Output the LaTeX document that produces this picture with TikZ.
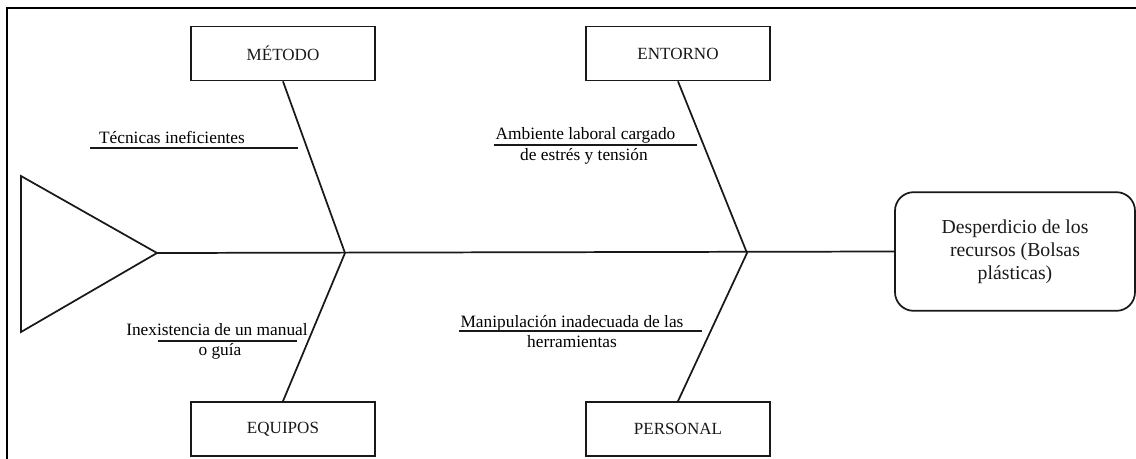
\documentclass[tikz,border=0pt]{standalone}
\usepackage{fontspec}
\setmainfont{Liberation Serif}
\begin{document}
\begin{tikzpicture}[x=0.75pt,y=-0.75pt,
  ln/.style={line width=1.3pt,black!90},
  catbox/.style={draw,line width=1.3pt,black!90,rectangle,minimum width=138pt,minimum height=40.5pt,inner sep=0pt,font=\fontsize{12.8}{15}\selectfont},
  effbox/.style={draw,line width=1.3pt,black!90,rectangle,rounded corners=14pt,minimum width=180pt,minimum height=89pt,inner sep=0pt,align=center,font=\fontsize{14.8}{17.4}\selectfont},
  lbl/.style={anchor=base,inner sep=0pt,font=\fontsize{13}{15}\selectfont}]
\useasboundingbox (0,0) rectangle (1136,458);
% frame
\draw[line width=1.9pt] (7,470) -- (7,8) -- (1150,8);
% head triangle
\coordinate (apex) at (157,253);
\draw[ln] (21,176) -- (apex) -- (21,332) -- cycle;
% effect
\node[effbox] (eff) at (1015,251.5) {Desperdicio de los\\recursos (Bolsas\\plásticas)};
% junctions
\coordinate (j1) at (345,253);
\coordinate (j2) at (747,253);
\draw[ln] (apex) -- (eff.west);
% categories
\node[catbox] (met) at (283,53.5) {MÉTODO};
\node[catbox] (ent) at (678,53.5) {ENTORNO};
\node[catbox] (equ) at (283,429) {EQUIPOS};
\node[catbox] (per) at (678,429) {PERSONAL};
\draw[ln] (met.south) -- (j1) -- (equ.north);
\draw[ln] (ent.south) -- (j2) -- (per.north);
% causes
\node[lbl] (c1) at (172,143) {Técnicas ineficientes};
\coordinate (u1a) at (90,148); \coordinate (u1b) at (298,148);
\draw[ln,line width=1pt] (u1a) -- (u1b);
\node[lbl] (c2a) at (585.5,139) {Ambiente laboral cargado};
\node[lbl] (c2b) at (584,160) {de estrés y tensión};
\coordinate (u2a) at (494,145); \coordinate (u2b) at (697,145);
\draw[ln,line width=1pt] (u2a) -- (u2b);
\node[lbl] (c3a) at (217,335) {Inexistencia de un manual};
\node[lbl] (c3b) at (220,355) {o guía};
\coordinate (u3a) at (158,341); \coordinate (u3b) at (297,341);
\draw[ln,line width=1pt] (u3a) -- (u3b);
\node[lbl] (c4a) at (572,327) {Manipulación inadecuada de las};
\node[lbl] (c4b) at (572,347) {herramientas};
\coordinate (u4a) at (459,331); \coordinate (u4b) at (702,331);
\draw[ln,line width=1pt] (u4a) -- (u4b);
\end{tikzpicture}
\end{document}
